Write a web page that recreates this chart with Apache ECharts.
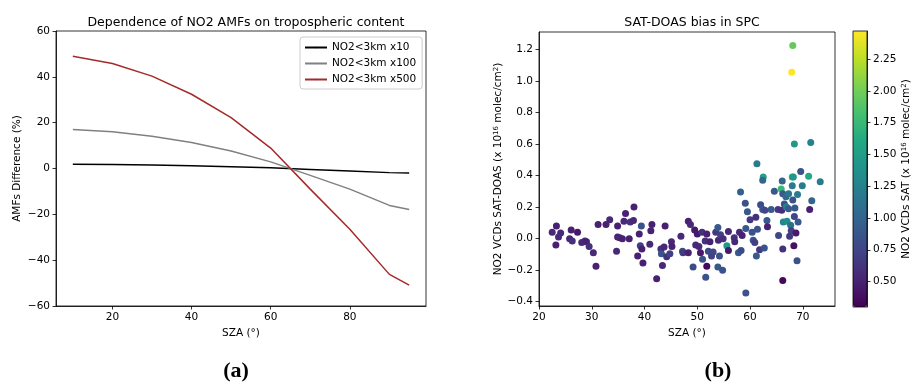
<!DOCTYPE html>
<html>
<head>
<meta charset="utf-8">
<title>NO2 AMFs and SAT-DOAS bias</title>
<script src="https://cdn.jsdelivr.net/npm/echarts@6.0.0/dist/echarts.min.js"></script>
<style>
  html, body { margin: 0; padding: 0; background: #fff; }
  #chart { width: 913px; height: 383px; }
</style>
</head>
<body>
<div id="chart"></div>
<script>
// panel (a): AMF difference vs SZA
const szaLine = [10, 20, 30, 40, 50, 60, 70, 80, 90, 95]
const amfX10 = [1.9, 1.7, 1.5, 1.2, 0.8, 0.3, -0.4, -1.1, -1.8, -2.0]
const amfX100 = [17.0, 16.0, 14.1, 11.3, 7.6, 2.9, -3.0, -9.0, -16.1, -17.9]
const amfX500 = [49.0, 45.8, 40.3, 32.4, 22.2, 8.9, -9.0, -26.5, -46.2, -50.9]
const lineNames = ['NO2<3km x10', 'NO2<3km x100', 'NO2<3km x500']
const amfTicks = [-60, -40, -20, 0, 20, 40, 60]
const szaTicksA = [20, 40, 60, 80]

// panel (b): SAT-DOAS bias vs SZA, coloured by SAT VCD
const szaPts = [
  22.5, 23.2, 23.3, 23.7, 24.1, 25.8, 26.1, 26.3, 27.3, 28.1,
  28.7, 29.0, 29.5, 30.3, 30.8, 31.2, 32.7, 33.4, 34.7, 34.9,
  34.9, 35.3, 35.8, 36.1, 36.4, 37.1, 37.3, 37.9, 38.0, 38.7,
  39.0, 39.2, 39.4, 39.5, 39.7, 41.0, 41.2, 41.4, 42.3, 43.1,
  43.2, 43.4, 43.7, 43.9, 44.2, 44.8, 45.1, 45.2, 46.9, 47.2,
  47.3, 48.3, 48.3, 48.7, 49.2, 49.5, 49.7, 50.0, 50.3, 50.6,
  50.9, 51.0, 51.5, 51.6, 51.8, 51.8, 52.1, 52.4, 52.7, 53.0,
  53.5, 53.9, 53.9, 54.0, 54.2, 54.4, 54.8, 54.9, 55.6, 55.9,
  55.9, 57.0, 57.1, 57.8, 58.0, 58.2, 58.3, 58.5, 59.1, 59.2,
  59.2, 59.5, 60.0, 60.4, 60.6, 60.9, 61.1, 61.2, 61.3, 61.4,
  61.8, 62.0, 62.4, 62.5, 62.4, 62.7, 62.8, 63.2, 63.3, 64.0,
  64.6, 65.3, 65.4, 65.9, 66.1, 66.2, 66.0, 66.2, 66.2, 66.3,
  66.5, 66.8, 66.9, 67.0, 67.3, 67.3, 67.5, 67.7, 67.8, 68.0,
  68.0, 67.9, 68.1, 68.1, 68.2, 68.4, 68.3, 68.4, 68.5, 68.7,
  68.9, 69.0, 69.1, 69.6, 69.9, 71.1, 71.3, 71.5, 71.7, 73.3
]
const biasPts = [
  0.04, -0.04, 0.08, 0.01, 0.035, 0.0, 0.055, -0.015, 0.04, -0.025,
  -0.015, -0.02, -0.05, -0.09, -0.175, 0.09, 0.09, 0.12, -0.08, 0.08,
  0.01, 0.005, 0.0, 0.11, 0.16, 0.0, 0.105, 0.115, 0.2, -0.11,
  0.03, -0.045, 0.08, -0.065, -0.155, -0.035, 0.05, 0.09, -0.255, -0.065,
  -0.095, -0.17, -0.053, 0.08, -0.115, -0.095, -0.02, -0.05, 0.015, -0.08,
  -0.09, -0.09, 0.11, 0.09, -0.18, 0.055, -0.04, 0.03, -0.05, -0.09,
  0.04, -0.13, -0.015, -0.245, 0.03, -0.175, -0.08, -0.02, -0.11, -0.085,
  0.04, 0.07, -0.18, -0.01, -0.11, 0.025, -0.2, 0.0, -0.045, -0.075,
  0.045, 0.005, -0.02, -0.09, 0.04, 0.295, -0.075, 0.02, 0.225, -0.345,
  0.065, 0.17, 0.12, 0.04, -0.01, -0.025, 0.135, -0.11, 0.475, 0.06,
  -0.07, 0.215, 0.185, 0.39, 0.37, -0.06, 0.18, 0.115, 0.075, 0.185,
  0.3, 0.185, 0.02, 0.315, 0.365, 0.285, 0.18, -0.065, -0.265, 0.105,
  0.22, 0.265, 0.2, 0.11, 0.285, 0.19, 0.015, 0.085, 0.05, 0.39,
  0.335, 1.055, 1.225, 0.245, 0.39, 0.6, -0.045, 0.14, 0.195, 0.035,
  -0.14, 0.28, 0.105, 0.425, 0.335, 0.395, 0.185, 0.61, 0.24, 0.36
]
const satPts = [
  0.55, 0.5, 0.5, 0.55, 0.55, 0.55, 0.5, 0.6, 0.45, 0.55,
  0.55, 0.5, 0.6, 0.55, 0.5, 0.5, 0.5, 0.55, 0.55, 0.5,
  0.5, 0.55, 0.5, 0.55, 0.5, 0.5, 0.6, 0.55, 0.5, 0.5,
  0.5, 0.7, 0.85, 0.5, 0.5, 0.55, 0.5, 0.5, 0.5, 0.6,
  0.85, 0.55, 0.55, 0.5, 0.6, 0.7, 0.55, 0.5, 0.55, 0.8,
  0.65, 0.5, 0.5, 0.55, 0.8, 0.45, 0.55, 0.45, 0.55, 0.45,
  0.6, 0.85, 0.6, 0.85, 0.5, 0.35, 0.8, 0.5, 0.7, 0.75,
  0.65, 0.9, 0.9, 0.55, 0.85, 0.7, 0.85, 0.6, 1.45, 0.45,
  0.55, 0.6, 0.55, 0.9, 0.55, 0.95, 0.8, 0.5, 0.85, 0.85,
  0.9, 0.9, 0.65, 0.85, 0.85, 0.7, 0.6, 0.9, 1.2, 0.85,
  0.65, 0.8, 0.9, 1.55, 1.0, 0.85, 0.75, 0.9, 0.5, 0.9,
  0.9, 0.65, 0.75, 1.75, 1.0, 0.9, 0.6, 0.6, 0.35, 1.3,
  0.85, 1.05, 1.25, 1.35, 1.15, 0.9, 0.65, 1.1, 0.7, 1.65,
  1.2, 2.47, 1.95, 0.85, 1.45, 1.45, 0.4, 0.75, 0.9, 0.45,
  0.85, 1.2, 0.9, 0.85, 1.2, 1.6, 0.5, 1.25, 1.0, 1.2
]
const biasTicks = [-0.4, -0.2, 0.0, 0.2, 0.4, 0.6, 0.8, 1.0, 1.2]
const szaTicksB = [20, 30, 40, 50, 60, 70]
const satTicks = [0.5, 0.75, 1.0, 1.25, 1.5, 1.75, 2.0, 2.25]
const satMin = 0.3
const satMax = 2.47

const viridis = ['#440154', '#482475', '#414487', '#355f8d', '#2a788e', '#21918c',
  '#22a884', '#44bf70', '#7ad151', '#bddf26', '#fde725']

const minus = (s) => String(s).replace('-', '\u2212')
const font = 'DejaVu Sans'
const tickFont = { fontFamily: font, fontSize: 10.5, color: '#000' }

function axisBase (extra) {
  return Object.assign({
    type: 'value',
    axisLine: { show: true, onZero: false, lineStyle: { color: '#000', width: 0.8 } },
    axisTick: { show: true, length: 3.5, lineStyle: { color: '#000', width: 0.8 } },
    splitLine: { show: false },
    nameTextStyle: { fontFamily: font, fontSize: 10.5, color: '#000' }
  }, extra)
}

const chart = echarts.init(document.getElementById('chart'))

chart.setOption({
  backgroundColor: '#fff',
  animation: false,
  title: [
    {
      text: 'Dependence of NO2 AMFs on tropospheric content',
      left: 241,
      top: 11,
      textAlign: 'center',
      textStyle: { fontFamily: font, fontSize: 12.5, fontWeight: 'normal', color: '#000' }
    },
    {
      text: 'SAT-DOAS bias in SPC',
      left: 687,
      top: 11,
      textAlign: 'center',
      textStyle: { fontFamily: font, fontSize: 12.5, fontWeight: 'normal', color: '#000' }
    }
  ],
  legend: {
    data: lineNames,
    left: 300,
    top: 37,
    orient: 'vertical',
    itemWidth: 22,
    itemHeight: 2,
    itemGap: 5,
    padding: [5, 6, 4, 4],
    borderColor: '#ccc',
    borderWidth: 1,
    borderRadius: 3,
    backgroundColor: 'rgba(255,255,255,0.8)',
    textStyle: { fontFamily: font, fontSize: 10.5, color: '#000' }
  },
  grid: [
    { left: 56, top: 31, width: 370, height: 275, show: true, borderColor: '#000', borderWidth: 0.8, backgroundColor: 'transparent' },
    { left: 539, top: 32, width: 296, height: 274, show: true, borderColor: '#000', borderWidth: 0.8, backgroundColor: 'transparent' },
    { left: 853, top: 31, width: 14, height: 276 }
  ],
  xAxis: [
    axisBase({
      gridIndex: 0,
      min: 5.75,
      max: 99.25,
      name: 'SZA (°)',
      nameLocation: 'middle',
      nameGap: 20,
      axisTick: { show: true, length: 3.5, customValues: szaTicksA, lineStyle: { color: '#000', width: 0.8 } },
      axisLabel: Object.assign({ customValues: szaTicksA, margin: 6 }, tickFont)
    }),
    axisBase({
      gridIndex: 1,
      min: 20,
      max: 76.1,
      name: 'SZA (°)',
      nameLocation: 'middle',
      nameGap: 20,
      axisTick: { show: true, length: 3.5, customValues: szaTicksB, lineStyle: { color: '#000', width: 0.8 } },
      axisLabel: Object.assign({ customValues: szaTicksB, margin: 6 }, tickFont)
    }),
    { type: 'value', gridIndex: 2, min: 0, max: 1, show: false }
  ],
  yAxis: [
    axisBase({
      gridIndex: 0,
      min: -60,
      max: 60,
      interval: 20,
      name: 'AMFs Difference (%)',
      nameLocation: 'middle',
      nameGap: 33,
      axisTick: { show: true, length: 3.5, customValues: amfTicks, lineStyle: { color: '#000', width: 0.8 } },
      axisLabel: Object.assign({ customValues: amfTicks, margin: 6, formatter: (v) => minus(v) }, tickFont)
    }),
    axisBase({
      gridIndex: 1,
      min: -0.427,
      max: 1.31,
      name: 'NO2 VCDs SAT-DOAS (x 10{sup|16} molec/cm{sup|2})',
      nameLocation: 'middle',
      nameGap: 33,
      nameTextStyle: {
        fontFamily: font,
        fontSize: 10.5,
        color: '#000',
        rich: { sup: { fontFamily: font, fontSize: 7, color: '#000', verticalAlign: 'top' } }
      },
      axisTick: { show: true, length: 3.5, customValues: biasTicks, lineStyle: { color: '#000', width: 0.8 } },
      axisLabel: Object.assign({ customValues: biasTicks, margin: 6, formatter: (v) => minus(v.toFixed(1)) }, tickFont)
    }),
    axisBase({
      gridIndex: 2,
      position: 'right',
      min: satMin,
      max: satMax,
      name: 'NO2 VCDs SAT (x 10{sup|16} molec/cm{sup|2})',
      nameLocation: 'middle',
      nameGap: 33,
      nameRotate: 90,
      nameTextStyle: {
        fontFamily: font,
        fontSize: 10.5,
        color: '#000',
        rich: { sup: { fontFamily: font, fontSize: 7, color: '#000', verticalAlign: 'top' } }
      },
      axisTick: { show: true, length: 3.5, customValues: satTicks, lineStyle: { color: '#000', width: 0.8 } },
      axisLabel: Object.assign({ customValues: satTicks, margin: 6, formatter: (v) => v.toFixed(2) }, tickFont)
    })
  ],
  visualMap: {
    type: 'continuous',
    min: satMin,
    max: satMax,
    dimension: 2,
    seriesIndex: 3,
    left: 853,
    top: 31,
    itemWidth: 14,
    itemHeight: 276,
    padding: 0,
    calculable: false,
    hoverLink: false,
    inRange: { color: viridis }
  },
  graphic: [
    { type: 'rect', z: 100, shape: { x: 853, y: 31, width: 14, height: 276 }, style: { fill: 'none', stroke: '#000', lineWidth: 0.8 } },
    { type: 'text', style: { text: '(a)', x: 236, y: 371, textAlign: 'center', textVerticalAlign: 'middle', font: 'bold 22px "Liberation Serif"', fill: '#000' } },
    { type: 'text', style: { text: '(b)', x: 718, y: 371, textAlign: 'center', textVerticalAlign: 'middle', font: 'bold 22px "Liberation Serif"', fill: '#000' } }
  ],
  series: [
    {
      name: lineNames[0],
      type: 'line',
      xAxisIndex: 0,
      yAxisIndex: 0,
      symbol: 'none',
      color: '#000',
      lineStyle: { width: 1.5 },
      data: szaLine.map((x, i) => [x, amfX10[i]])
    },
    {
      name: lineNames[1],
      type: 'line',
      xAxisIndex: 0,
      yAxisIndex: 0,
      symbol: 'none',
      color: '#808080',
      lineStyle: { width: 1.5 },
      data: szaLine.map((x, i) => [x, amfX100[i]])
    },
    {
      name: lineNames[2],
      type: 'line',
      xAxisIndex: 0,
      yAxisIndex: 0,
      symbol: 'none',
      color: '#a52a2a',
      lineStyle: { width: 1.5 },
      data: szaLine.map((x, i) => [x, amfX500[i]])
    },
    {
      name: 'SAT-DOAS',
      type: 'scatter',
      xAxisIndex: 1,
      yAxisIndex: 1,
      symbolSize: 7,
      itemStyle: { opacity: 1 },
      data: szaPts.map((x, i) => [x, biasPts[i], satPts[i]])
    }
  ]
})
</script>
</body>
</html>
